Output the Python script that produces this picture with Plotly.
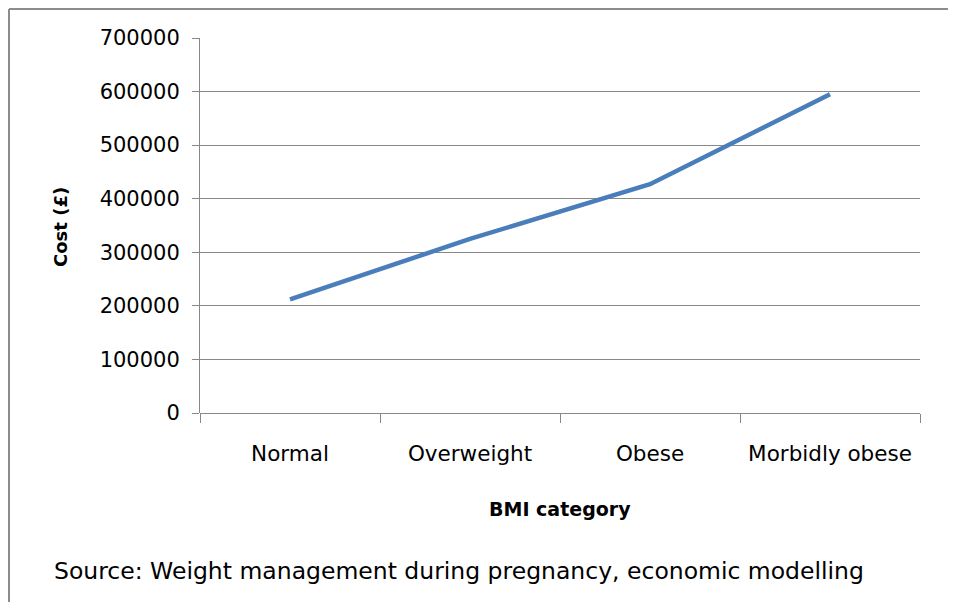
import plotly.graph_objects as go

categories = ["Normal", "Overweight", "Obese", "Morbidly obese"]
cost = [212000, 325000, 427000, 595000]
y_ticks = [0, 100000, 200000, 300000, 400000, 500000, 600000, 700000]

# page has an 8px body margin; the figure starts at (8, 8)
OFF = 8
W, H = 956 - 2 * OFF, 610 - 2 * OFF
L, R, T = 200 - OFF, 956 - OFF - 920, 38 - OFF
B = H - (413 - OFF)
pw, ph = W - L - R, H - T - B

def px_x(px):
    return (px - OFF - L) / pw

def px_y(py):
    return (H - B - (py - OFF)) / ph

FONT = "DejaVu Sans"
GRAY = "#888888"

fig = go.Figure()
fig.add_trace(go.Scatter(
    x=categories, y=cost, mode="lines",
    line=dict(color="#4a7ebb", width=4.5),
    showlegend=False, hoverinfo="skip",
))

fig.update_layout(
    width=W, height=H,
    margin=dict(l=L, r=R, t=T, b=B),
    paper_bgcolor="white", plot_bgcolor="white",
    font=dict(family=FONT, size=21, color="black"),
    xaxis=dict(
        type="category", range=[-0.5, 3.5],
        tickson="boundaries", ticks="outside", ticklen=9, tickcolor=GRAY,
        showline=False, showgrid=False, zeroline=False,
        ticklabelstandoff=25,
        tickfont=dict(family=FONT, size=21.5, color="black"),
    ),
    yaxis=dict(
        range=[0, 700000], tickvals=y_ticks, ticktext=[str(v) for v in y_ticks],
        ticks="outside", ticklen=7, tickcolor=GRAY,
        showline=True, linecolor=GRAY, linewidth=1,
        showgrid=True, gridcolor=GRAY, gridwidth=1,
        zeroline=True, zerolinecolor=GRAY, zerolinewidth=1,
        ticklabelstandoff=8,
        tickfont=dict(family=FONT, size=21, color="black"),
    ),
    shapes=[
        dict(type="line", xref="paper", yref="paper",
             x0=px_x(9), x1=px_x(9), y0=px_y(660), y1=px_y(9),
             line=dict(color="#8c8c8c", width=2), layer="below"),
        dict(type="line", xref="paper", yref="paper",
             x0=px_x(9), x1=px_x(1000), y0=px_y(9), y1=px_y(9),
             line=dict(color="#8c8c8c", width=2), layer="below"),
    ],
    annotations=[
        dict(text="<b>Cost (£)</b>", xref="paper", yref="paper",
             x=px_x(60), y=px_y(227), textangle=-90, showarrow=False,
             xanchor="center", yanchor="middle",
             font=dict(family=FONT, size=18, color="black")),
        dict(text="<b>BMI category</b>", xref="paper", yref="paper",
             x=px_x(560), y=px_y(509), showarrow=False,
             xanchor="center", yanchor="middle",
             font=dict(family=FONT, size=19, color="black")),
        dict(text="Source: Weight management during pregnancy, economic modelling",
             xref="paper", yref="paper",
             x=px_x(52), y=px_y(571), showarrow=False,
             xanchor="left", yanchor="middle",
             font=dict(family=FONT, size=23.5, color="black")),
    ],
)

fig.write_html("out.html")
